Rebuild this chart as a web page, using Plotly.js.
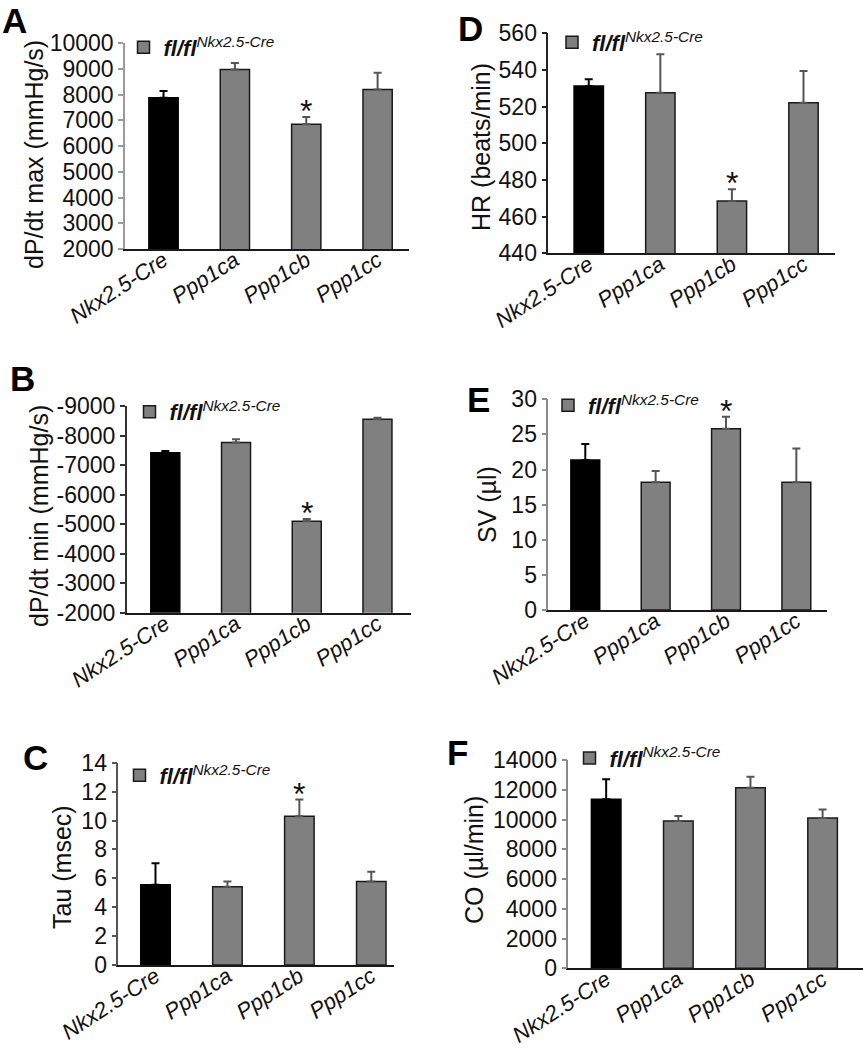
<!DOCTYPE html>
<html><head><meta charset="utf-8">
<script src="https://cdn.plot.ly/plotly-3.0.1.min.js"></script>
<style>html,body{margin:0;padding:0;background:#fff}#chart{width:863px;height:1050px}</style>
</head><body><div id="chart"></div>
<script>
// ---- data ----
const categories = ['Nkx2.5-Cre', 'Ppp1ca', 'Ppp1cb', 'Ppp1cc'];
const legendLabel = '<b><i>fl/fl</i></b><sup><i>Nkx2.5-Cre</i></sup>';

const dpdtMax = [7870, 8970, 6840, 8190];
const dpdtMaxErr = [270, 250, 290, 650];
const dpdtMin = [-7420, -7760, -5100, -8550];
const dpdtMinErr = [60, 110, 70, 50];
const tau = [5.55, 5.42, 10.3, 5.77];
const tauErr = [1.5, 0.35, 1.15, 0.69];
const hr = [531.3, 527.6, 468.5, 522.1];
const hrErr = [3.6, 21, 6.4, 17.3];
const sv = [21.35, 18.2, 25.8, 18.2];
const svErr = [2.3, 1.6, 1.7, 4.8];
const co = [11360, 9900, 12140, 10100];
const coErr = [1340, 340, 740, 580];

const dpdtMinTicks = [-9000, -8000, -7000, -6000, -5000, -4000, -3000, -2000];
const dpdtMinTickText = ['-9000', '-8000', '-7000', '-6000', '-5000', '-4000', '-3000', '-2000'];
const significant = ['Ppp1cb'];

// ---- layout helpers ----
const W = 863, H = 1050;
const FONT = 'Arial, "Liberation Sans", sans-serif';
const fx = p => p / W;
const fy = p => 1 - p / H;

const panels = [
  {letter: 'A', vals: dpdtMax, errs: dpdtMaxErr, title: 'dP/dt max (mmHg/s)', range: [2000, 10000], dtick: 1000,
   xpx: [125, 409], ypx: [43, 249], xr: [-0.54, 3.44], line: '#9a9a9a', letterPx: [1, 0], legPx: [147.5, 43.5], titlePx: [34, 155], star: true, neg: false},
  {letter: 'D', vals: hr, errs: hrErr, title: 'HR (beats/min)', range: [440, 560], dtick: 20,
   xpx: [548.3, 835], ypx: [33.3, 253.3], xr: [-0.565, 3.44], line: '#222', letterPx: [457, 8], legPx: [576, 38.5], titlePx: [481, 147], star: true, neg: false},
  {letter: 'B', vals: dpdtMin, errs: dpdtMinErr, title: 'dP/dt min (mmHg/s)', range: [-2000, -9000], tickvals: dpdtMinTicks, ticktext: dpdtMinTickText,
   xpx: [126.7, 410.7], ypx: [406, 612.7], xr: [-0.546, 3.47], line: '#333', letterPx: [9, 358], legPx: [153.5, 408], titlePx: [39, 516], star: true, neg: true},
  {letter: 'E', vals: sv, errs: svErr, title: 'SV (µl)', range: [0, 30], dtick: 5,
   xpx: [548.3, 827.3], ypx: [399.3, 610], xr: [-0.526, 3.44], line: '#8a8a8a', letterPx: [466, 379], legPx: [572, 401.5], titlePx: [487, 505], star: true, neg: false},
  {letter: 'C', vals: tau, errs: tauErr, title: 'Tau (msec)', range: [0, 14], dtick: 2,
   xpx: [118.3, 394.3], ypx: [762.7, 965], xr: [-0.517, 3.32], line: '#555', letterPx: [22, 737], legPx: [143.5, 771.5], titlePx: [62, 867], star: true, neg: false},
  {letter: 'F', vals: co, errs: coErr, title: 'CO (µl/min)', range: [0, 14000], dtick: 2000,
   xpx: [568.3, 863], ypx: [760, 968.3], xr: [-0.525, 3.56], line: '#8a8a8a', letterPx: [446, 732], legPx: [593.5, 754.3], titlePx: [474, 860], star: false, neg: false}
];

const data = [];
const layout = {
  width: W, height: H,
  margin: {l: 0, r: 0, t: 0, b: 0},
  paper_bgcolor: '#fff', plot_bgcolor: 'rgba(0,0,0,0)',
  barmode: 'overlay',
  font: {family: FONT, color: '#111'},
  annotations: [], showlegend: true
};

panels.forEach((p, i) => {
  const n = i + 1;
  const sfx = n === 1 ? '' : String(n);
  const xa = 'x' + sfx, ya = 'y' + sfx;
  const legName = 'legend' + sfx;
  const errUp = p.errs.map(e => e);
  const zeros = p.errs.map(() => 0);

  // control bar (black)
  data.push({
    type: 'bar', x: categories.slice(0, 1), y: p.vals.slice(0, 1), width: 0.41,
    xaxis: xa, yaxis: ya, showlegend: false, cliponaxis: true,
    marker: {color: '#000', line: {color: '#000', width: 1.5}},
    error_y: {type: 'data', symmetric: false,
      array: p.neg ? zeros.slice(0, 1) : errUp.slice(0, 1),
      arrayminus: p.neg ? errUp.slice(0, 1) : zeros.slice(0, 1),
      color: '#000', thickness: 2, width: 4},
    hoverinfo: 'x+y'
  });
  // knockout bars (gray)
  data.push({
    type: 'bar', x: categories.slice(1), y: p.vals.slice(1), width: 0.41,
    xaxis: xa, yaxis: ya, name: legendLabel, legend: legName, showlegend: true,
    marker: {color: '#808080', line: {color: '#1a1a1a', width: 1.5}},
    error_y: {type: 'data', symmetric: false,
      array: p.neg ? zeros.slice(1) : errUp.slice(1),
      arrayminus: p.neg ? errUp.slice(1) : zeros.slice(1),
      color: '#555', thickness: 2, width: 4},
    hoverinfo: 'x+y'
  });

  layout['xaxis' + sfx] = {
    domain: [fx(p.xpx[0]), fx(p.xpx[1])], range: p.xr, type: 'category', anchor: ya,
    showline: true, linecolor: '#1a1a1a', linewidth: 2, ticks: '', tickangle: -33,
    ticklabelstandoff: -12,
    tickfont: {family: FONT, size: 22, color: '#111', style: 'italic'},
    showgrid: false, zeroline: false, fixedrange: true
  };
  const yax = {
    domain: [fy(p.ypx[1]), fy(p.ypx[0])], range: p.range, anchor: xa,
    showline: true, linecolor: p.line, linewidth: 1.5,
    ticks: 'outside', ticklen: 5, tickcolor: p.line, tickwidth: 1.5,
    tickfont: {family: FONT, size: 23, color: '#111'},
    exponentformat: 'none', separatethousands: false, tickformat: 'd',
    showgrid: false, zeroline: false, fixedrange: true
  };
  if (p.tickvals) { yax.tickmode = 'array'; yax.tickvals = p.tickvals; yax.ticktext = p.ticktext; }
  else { yax.tickmode = 'linear'; yax.tick0 = p.range[0]; yax.dtick = p.dtick; }
  layout['yaxis' + sfx] = yax;

  layout[legName] = {
    x: fx(p.legPx[0] - 24), y: fy(p.legPx[1] - 17), xanchor: 'left', yanchor: 'top',
    bgcolor: 'rgba(0,0,0,0)', borderwidth: 0,
    font: {family: FONT, size: 22, color: '#111'}, itemclick: false, itemdoubleclick: false
  };

  // y-axis title
  layout.annotations.push({
    xref: 'paper', yref: 'paper', x: fx(p.titlePx[0]), y: fy(p.titlePx[1]),
    xanchor: 'center', yanchor: 'middle', textangle: -90, showarrow: false, text: p.title,
    font: {family: FONT, size: 25, color: '#111'}
  });

  // panel letter
  layout.annotations.push({
    xref: 'paper', yref: 'paper', x: fx(p.letterPx[0]), y: fy(p.letterPx[1]),
    xanchor: 'left', yanchor: 'top', showarrow: false, text: '<b>' + p.letter + '</b>',
    font: {family: FONT, size: 35, color: '#000'}, borderpad: 0
  });

  if (p.star) {
    categories.forEach((c, k) => {
      if (significant.indexOf(c) < 0) return;
      layout.annotations.push({
        xref: xa, yref: ya, x: c, y: p.neg ? p.vals[k] - p.errs[k] : p.vals[k] + p.errs[k],
        xanchor: 'center', yanchor: 'middle', yshift: 6, showarrow: false, text: '*',
        font: {family: FONT, size: 32, color: '#111'}
      });
    });
  }
});

Plotly.newPlot('chart', data, layout, {displayModeBar: false});
</script></body></html>
